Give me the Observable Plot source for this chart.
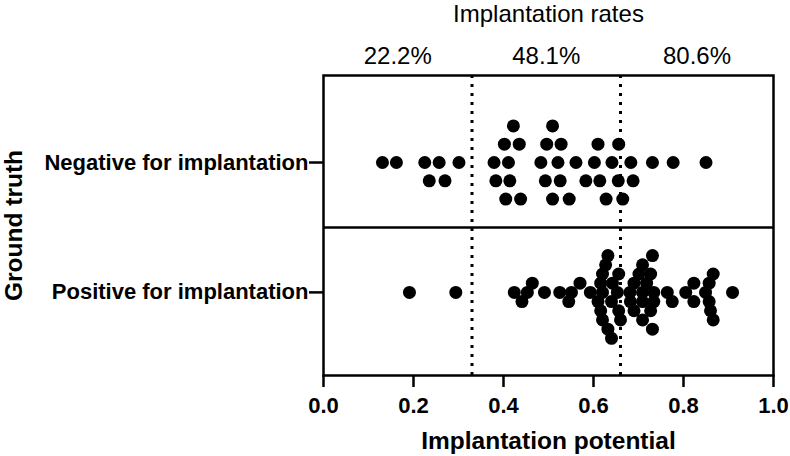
<!DOCTYPE html>
<html>
<head>
<meta charset="utf-8">
<script src="https://cdn.jsdelivr.net/npm/d3@7"></script>
<script src="https://cdn.jsdelivr.net/npm/@observablehq/plot@0.6"></script>
<style>
  html, body { margin: 0; padding: 0; background: #ffffff; }
  #chart svg { display: block; }
</style>
</head>
<body>
<div id="chart"></div>
<script>
// ---------------- data ----------------
const groups = ["Negative for implantation", "Positive for implantation"];

const negativeValues = [
  0.131, 0.162, 0.225, 0.235, 0.257, 0.270, 0.301, 0.379, 0.383, 0.402,
  0.405, 0.411, 0.414, 0.422, 0.435, 0.438, 0.483, 0.493, 0.496, 0.509,
  0.509, 0.521, 0.526, 0.528, 0.546, 0.561, 0.583, 0.602, 0.610, 0.614,
  0.628, 0.641, 0.655, 0.656, 0.665, 0.683, 0.688, 0.731, 0.777, 0.850
];

const positiveValues = [
  0.191, 0.294, 0.424, 0.441, 0.453, 0.464, 0.491, 0.525, 0.545, 0.551,
  0.570, 0.593, 0.610, 0.616, 0.616, 0.620, 0.620, 0.620, 0.627, 0.632,
  0.632, 0.640, 0.640, 0.642, 0.653, 0.656, 0.656, 0.660, 0.681, 0.682,
  0.690, 0.690, 0.701, 0.709, 0.709, 0.709, 0.709, 0.718, 0.727, 0.727,
  0.731, 0.731, 0.734, 0.734, 0.764, 0.775, 0.805, 0.823, 0.823, 0.849,
  0.857, 0.857, 0.860, 0.866, 0.866, 0.909
];

const thresholds = [0.33, 0.66];
const rateLabels = ["22.2%", "48.1%", "80.6%"];
const xTicks = [0, 0.2, 0.4, 0.6, 0.8, 1.0];

// ---------------- layout (gridded swarm) ----------------
const laneStep = [0.1409, 0.0708]; // y units between swarm lanes per group
const minGap = [0.030, 0.025];     // min x distance within a lane per group

function swarm(values, gi) {
  const sorted = values.slice().sort(d3.ascending);
  const last = new Map();
  return sorted.map(v => {
    for (let k = 0; ; k++) {
      const lane = k === 0 ? 0 : (k % 2 ? (k + 1) / 2 : -k / 2);
      if (!last.has(lane) || v - last.get(lane) >= minGap[gi]) {
        last.set(lane, v);
        return { group: groups[gi], value: v, y: gi + 1 + lane * laneStep[gi] };
      }
    }
  });
}

const points = [...swarm(negativeValues, 0), ...swarm(positiveValues, 1)];
const bounds = [0, ...thresholds, 1];
const mids = d3.pairs(bounds, (a, b) => (a + b) / 2);
const separators = groups.slice(1).map((g, i) => i + 1.5);

const font = "'Liberation Sans', Arial, Helvetica, sans-serif";

const chart = Plot.plot({
  width: 790,
  height: 456,
  marginLeft: 323,
  marginRight: 17,
  marginTop: 75,
  marginBottom: 81,
  style: { fontFamily: font, color: "#000", background: "#fff" },
  x: { domain: [0, 1] },
  y: { domain: [0.33, 2.64], reverse: true },
  marks: [
    Plot.ruleX(thresholds, { stroke: "#000", strokeWidth: 3, strokeDasharray: "3,6" }),
    Plot.ruleY(separators, { x1: 0, x2: 1, stroke: "#000", strokeWidth: 2.5 }),
    Plot.dot(points, { x: "value", y: "y", r: 6.5, fill: "#000", stroke: null }),
    Plot.frame({ stroke: "#000", strokeWidth: 2.5 }),
    Plot.axisX(xTicks, {
      anchor: "bottom",
      tickSize: 12,
      tickPadding: 10,
      strokeWidth: 2.5,
      tickFormat: d3.format(".1f"),
      fontSize: 22,
      fontWeight: "bold",
      label: null
    }),
    Plot.axisX(mids, {
      anchor: "top",
      tickSize: 0,
      tickPadding: 12,
      tickFormat: d => rateLabels[mids.indexOf(d)],
      fontSize: 24,
      label: "Implantation rates",
      labelAnchor: "center",
      labelArrow: "none",
      labelOffset: 71
    }),
    Plot.axisY([1, 2], {
      anchor: "left",
      tickSize: 14,
      tickPadding: 1,
      strokeWidth: 2.5,
      tickFormat: d => groups[d - 1],
      fontSize: 22,
      fontWeight: "bold",
      label: null
    }),
    Plot.text(["Implantation potential"], {
      frameAnchor: "bottom",
      dy: 73,
      lineAnchor: "bottom",
      fontSize: 24.5,
      fontWeight: "bold",
      fill: "#000"
    }),
    Plot.text(["Ground truth"], {
      frameAnchor: "left",
      dx: -302,
      rotate: -90,
      lineAnchor: "bottom",
      textAnchor: "middle",
      fontSize: 24.5,
      fontWeight: "bold",
      fill: "#000"
    })
  ]
});

document.getElementById("chart").appendChild(chart);
</script>
</body>
</html>
